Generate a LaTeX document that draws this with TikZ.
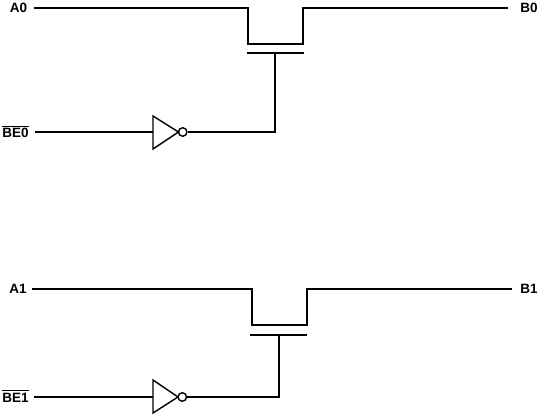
\documentclass[tikz,border=0pt]{standalone}
\usepackage{amsmath,amsfonts,amssymb}
\usepackage{fontspec}
\setmainfont{Liberation Sans}
\newcommand{\barsig}[1]{\vbox{\hrule height 0.8pt \kern 1.9pt \hbox{#1}}}
\tikzset{
	wire/.style = {line width = 1.6pt, line join = miter},
	invwire/.style = {line width = 1.4pt, line join = miter},
	sig/.style = {font = \fontsize{13.5}{13.5}\selectfont\bfseries, inner sep = 0pt, anchor = center},
	bubble/.style = {circle, draw, line width = 1.4pt, minimum size = 8.5pt, inner sep = 0pt}
}
\begin{document}
\begin{tikzpicture} [x = 1pt, y = -1pt]
		\useasboundingbox (0,0) rectangle (538,415);
		% first switch
		\node[sig] (A0) at (18.5,8) {A0};
		\node[sig] (B0) at (529,7.5) {B0};
		\node[sig, anchor = south] (BE0) at (15.5,138) {\barsig{BE0}};
		\coordinate (a0) at (34,8);
		\coordinate (s0) at (248,8);
		\coordinate (d0) at (303,8);
		\coordinate (e0) at (508,8);
		\coordinate (gl0) at (247,53);
		\coordinate (gr0) at (304,53);
		\coordinate (g0) at (275,53);
		\coordinate (tl0) at (153,116);
		\coordinate (bl0) at (153,149);
		\coordinate (c0) at (35,132);
		\coordinate (in0) at (153,132);
		\coordinate (tip0) at (178.5,132);
		\coordinate (k0) at (275,132);
		\node[bubble] (inv0) at (182.7,132) {};
		\draw[wire] (a0) -- (s0) -- (248,44) -- (303,44) -- (d0) -- (e0);
		\draw[wire] (gl0) -- (gr0);
		\draw[wire] (c0) -- (in0);
		\draw[invwire] (tl0) -- (bl0) -- (tip0) -- cycle;
		\draw[wire] (inv0) -- (k0) -- (g0);
		% second switch
		\node[sig] (A1) at (18,289) {A1};
		\node[sig] (B1) at (529,289) {B1};
		\node[sig, anchor = south] (BE1) at (15.5,402.5) {\barsig{BE1}};
		\coordinate (a1) at (32,289);
		\coordinate (s1) at (252,289);
		\coordinate (d1) at (307,289);
		\coordinate (e1) at (512,289);
		\coordinate (gl1) at (250,335);
		\coordinate (gr1) at (307,335);
		\coordinate (g1) at (279,335);
		\coordinate (tl1) at (153,380);
		\coordinate (bl1) at (153,413);
		\coordinate (c1) at (34,397);
		\coordinate (in1) at (153,397);
		\coordinate (tip1) at (178,397);
		\coordinate (k1) at (279,397);
		\node[bubble] (inv1) at (182.3,397) {};
		\draw[wire] (a1) -- (s1) -- (252,325) -- (307,325) -- (d1) -- (e1);
		\draw[wire] (gl1) -- (gr1);
		\draw[wire] (c1) -- (in1);
		\draw[invwire] (tl1) -- (bl1) -- (tip1) -- cycle;
		\draw[wire] (inv1) -- (k1) -- (g1);
	\end{tikzpicture}
\end{document}
